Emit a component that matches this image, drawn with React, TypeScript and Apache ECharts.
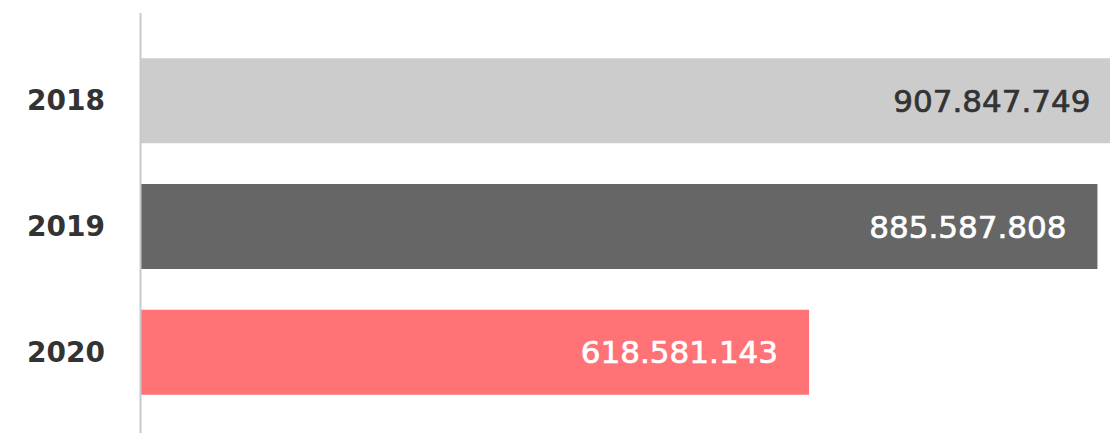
import React, { useEffect, useRef } from "react";
import * as echarts from "echarts";

const categories = ["2018", "2019", "2020"];
const values = [907847749, 885587808, 618581143];
const barColors = ["#cccccc", "#666666", "#ff7276"];
const labelColors = ["#333333", "#ffffff", "#ffffff"];

function fmt(v: number): string {
  return String(Math.round(v)).replace(/\B(?=(\d{3})+(?!\d))/g, ".");
}

export default function App() {
  const ref = useRef<HTMLDivElement>(null);
  useEffect(() => {
    if (!ref.current) return;
    const chart = echarts.init(ref.current, undefined, { renderer: "svg" });
    chart.setOption({
      animation: false,
      backgroundColor: "#ffffff",
      grid: {
        left: 141,
        top: 38,
        width: 1080,
        height: 377,
        outerBoundsMode: "none",
        containLabel: false,
      },
      xAxis: {
        type: "value",
        min: 0,
        max: 1000000000,
        show: false,
      },
      yAxis: {
        type: "category",
        inverse: true,
        data: categories,
        axisLine: { show: false },
        axisTick: { show: false },
        splitLine: { show: false },
        axisLabel: {
          margin: 36,
          color: "#333333",
          fontFamily: "DejaVu Sans",
          fontWeight: "bold",
          fontSize: 28,
          padding: [6, 0, 0, 0],
        },
      },
      graphic: [
        {
          type: "line",
          shape: { x1: 140.5, y1: 13, x2: 140.5, y2: 433 },
          style: { stroke: "#c3cbcf", lineWidth: 2 },
          z: 10,
        },
      ],
      series: [
        {
          type: "bar",
          barWidth: 85,
          data: values.map((v, i) => ({
            value: v,
            itemStyle: { color: barColors[i] },
            label: { color: labelColors[i], textBorderColor: labelColors[i] },
          })),
          label: {
            show: true,
            position: "insideRight",
            distance: 31,
            fontFamily: "DejaVu Sans",
            fontSize: 31,
            textBorderWidth: 0.7,
            formatter: (p: any) => fmt(p.value),
          },
        },
      ],
    });
    return () => chart.dispose();
  }, []);
  return (
    <div
      ref={ref}
      style={{ position: "absolute", left: 0, top: 0, width: 1110, height: 433 }}
    />
  );
}
